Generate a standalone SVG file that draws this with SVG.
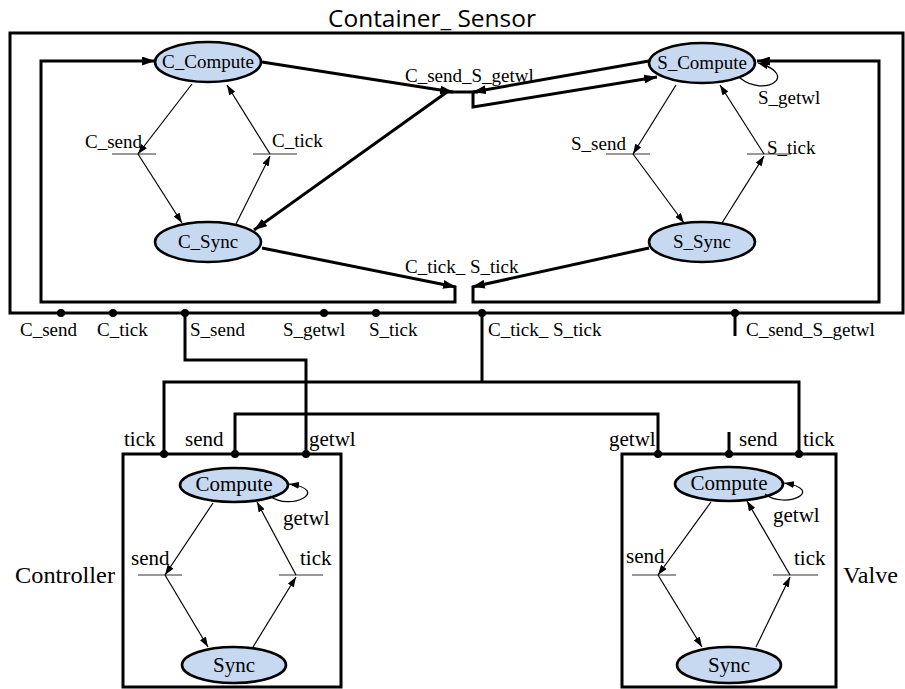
<svg xmlns="http://www.w3.org/2000/svg" width="905" height="689" viewBox="0 0 905 689">
<style>
.bg{fill:#fff}
.box{fill:none;stroke:#000;stroke-width:3}
.st{fill:#c6d9f0;stroke:#000;stroke-width:2.6}
.thk{fill:none;stroke:#000;stroke-width:3;stroke-linejoin:miter}
.thn{fill:none;stroke:#000;stroke-width:1.2}
.bar{fill:none;stroke:#333;stroke-width:1.2}
.t{font-family:"Liberation Serif","Times New Roman",serif;font-size:19px;fill:#000}
.tm{font-family:"Liberation Serif","Times New Roman",serif;font-size:21px;fill:#000}
.tl{font-family:"Liberation Serif","Times New Roman",serif;font-size:24px;fill:#000}
.ttl{font-family:"Open Sans","Liberation Sans",sans-serif;font-size:24px;fill:#000}
.c{text-anchor:middle}
.dot{fill:#000}
</style>
<defs>
<marker id="a" markerUnits="userSpaceOnUse" markerWidth="10" markerHeight="7" refX="10" refY="3.5" orient="auto"><path d="M0,0 L10,3.5 L0,7 z" fill="#000"/></marker>
<marker id="b" markerUnits="userSpaceOnUse" markerWidth="13" markerHeight="9" refX="13" refY="4.5" orient="auto"><path d="M0,0 L13,4.5 L0,9 z" fill="#000"/></marker>
</defs>
<rect class="bg" x="0" y="0" width="905" height="689"/>

<g id="container">
<rect class="box" x="10" y="33" width="893" height="280"/>
<text class="ttl" x="328" y="27" textLength="208" lengthAdjust="spacingAndGlyphs">Container_ Sensor</text>
</g>

<g id="C_Compute"><ellipse class="st" cx="208" cy="62" rx="53" ry="20"/><text class="t c" x="208" y="68">C_Compute</text></g>
<g id="C_Sync"><ellipse class="st" cx="208" cy="242" rx="53" ry="20"/><text class="t c" x="208" y="248">C_Sync</text></g>
<g id="S_Compute"><ellipse class="st" cx="702" cy="63" rx="53" ry="20"/><text class="t c" x="702" y="69">S_Compute</text></g>
<g id="S_Sync"><ellipse class="st" cx="702" cy="242" rx="53" ry="20"/><text class="t c" x="702" y="248">S_Sync</text></g>

<g id="C_send_tr"><line class="bar" x1="112" y1="154" x2="156" y2="154"/><text class="t" x="85" y="148">C_send</text></g>
<g id="C_tick_tr"><line class="bar" x1="253" y1="154" x2="297" y2="154"/><text class="t" x="272" y="147">C_tick</text></g>
<g id="S_send_tr"><line class="bar" x1="606" y1="154" x2="650" y2="154"/><text class="t" x="571" y="150">S_send</text></g>
<g id="S_tick_tr"><line class="bar" x1="747" y1="154" x2="791" y2="154"/><text class="t" x="767" y="154">S_tick</text></g>

<g id="Controller">
<rect class="box" x="123" y="454" width="218" height="233"/>
<text class="tl" x="15" y="583" textLength="100" lengthAdjust="spacingAndGlyphs">Controller</text>
<ellipse class="st" cx="234" cy="485" rx="54" ry="17"/><text class="tm c" x="234" y="491">Compute</text>
<ellipse class="st" cx="234" cy="665" rx="52" ry="18"/><text class="tm c" x="234" y="672">Sync</text>
<line class="bar" x1="138" y1="575" x2="182" y2="575"/><text class="tm" x="131" y="565">send</text>
<line class="bar" x1="279" y1="575" x2="323" y2="575"/><text class="tm" x="300" y="565">tick</text>
<text class="tm" x="283" y="525">getwl</text>
</g>

<g id="Valve">
<rect class="box" x="622" y="454" width="214" height="233"/>
<text class="tl" x="843" y="583" textLength="55" lengthAdjust="spacingAndGlyphs">Valve</text>
<ellipse class="st" cx="729" cy="484" rx="54" ry="17"/><text class="tm c" x="729" y="490">Compute</text>
<ellipse class="st" cx="729" cy="665" rx="52" ry="18"/><text class="tm c" x="729" y="672">Sync</text>
<line class="bar" x1="632" y1="575" x2="676" y2="575"/><text class="tm" x="626" y="563">send</text>
<line class="bar" x1="773" y1="575" x2="818" y2="575"/><text class="tm" x="794" y="565">tick</text>
<text class="tm" x="773" y="522">getwl</text>
</g>

<g id="connectors">
<line class="thn" x1="192" y1="84" x2="138" y2="154" marker-end="url(#a)"/>
<line class="thn" x1="138" y1="154" x2="182" y2="223" marker-end="url(#a)"/>
<line class="thn" x1="236" y1="224" x2="270" y2="156" marker-end="url(#a)"/>
<line class="thn" x1="270" y1="154" x2="227" y2="85" marker-end="url(#a)"/>
<line class="thn" x1="676" y1="85" x2="633" y2="154" marker-end="url(#a)"/>
<line class="thn" x1="633" y1="154" x2="684" y2="223" marker-end="url(#a)"/>
<line class="thn" x1="722" y1="223" x2="764" y2="156" marker-end="url(#a)"/>
<line class="thn" x1="764" y1="154" x2="720" y2="85" marker-end="url(#a)"/>
<path class="thn" d="M740,78 C765,98 800,75 758,63" marker-end="url(#a)"/>
<text class="t" x="758" y="104">S_getwl</text>
<line class="thk" x1="262" y1="62" x2="453" y2="92" marker-end="url(#b)"/>
<line class="thk" x1="649" y1="61" x2="473" y2="92" marker-end="url(#b)"/>
<line class="thk" x1="445" y1="92" x2="478" y2="92"/>
<line class="thk" x1="447" y1="92" x2="254" y2="230" marker-end="url(#b)"/>
<path class="thk" d="M473,92 V107 L657,77" marker-end="url(#b)"/>
<text class="t" x="405" y="82">C_send_S_getwl</text>
<line class="thk" x1="262" y1="248" x2="456" y2="287" marker-end="url(#b)"/>
<line class="thk" x1="649" y1="248" x2="472" y2="287" marker-end="url(#b)"/>
<path class="thk" d="M455,286 V302 H41 V61 H155" marker-end="url(#b)"/>
<path class="thk" d="M473,286 V302 H879 V61 H757" marker-end="url(#b)"/>
<text class="t" x="405" y="273">C_tick_ S_tick</text>
<circle class="dot" cx="61" cy="313" r="4"/>
<circle class="dot" cx="113" cy="313" r="4"/>
<circle class="dot" cx="185" cy="313" r="4"/>
<circle class="dot" cx="324" cy="313" r="4"/>
<circle class="dot" cx="376" cy="313" r="4"/>
<circle class="dot" cx="482" cy="313" r="4"/>
<circle class="dot" cx="735" cy="313" r="4"/>
<text class="t" x="20" y="336">C_send</text>
<text class="t" x="97" y="336">C_tick</text>
<text class="t" x="190" y="336">S_send</text>
<text class="t" x="283" y="336">S_getwl</text>
<text class="t" x="369" y="336">S_tick</text>
<text class="t" x="488" y="336">C_tick_ S_tick</text>
<text class="t" x="746" y="336">C_send_S_getwl</text>
<path class="thk" d="M185,313 V360 H306 V454"/>
<path class="thk" d="M482,313 V382"/>
<path class="thk" d="M164,454 V382 H799 V454"/>
<path class="thk" d="M235,454 V414 H658 V454"/>
<path class="thk" d="M735,313 V336"/>
<path class="thk" d="M729,432 V454"/>
<circle class="dot" cx="164" cy="454" r="4"/>
<circle class="dot" cx="235" cy="454" r="4"/>
<circle class="dot" cx="306" cy="454" r="4"/>
<circle class="dot" cx="658" cy="454" r="4"/>
<circle class="dot" cx="729" cy="454" r="4"/>
<circle class="dot" cx="799" cy="454" r="4"/>
<text class="tm" x="124" y="446">tick</text>
<text class="tm" x="185" y="446">send</text>
<text class="tm" x="309" y="446">getwl</text>
<text class="tm" x="609" y="446">getwl</text>
<text class="tm" x="739" y="446">send</text>
<text class="tm" x="803" y="446">tick</text>
<line class="thn" x1="213" y1="503" x2="165" y2="575" marker-end="url(#a)"/>
<line class="thn" x1="165" y1="575" x2="208" y2="647" marker-end="url(#a)"/>
<line class="thn" x1="253" y1="647" x2="296" y2="577" marker-end="url(#a)"/>
<line class="thn" x1="296" y1="575" x2="257" y2="502" marker-end="url(#a)"/>
<path class="thn" d="M270,496 C290,512 332,490 289,484" marker-end="url(#a)"/>
<line class="thn" x1="711" y1="502" x2="658" y2="575" marker-end="url(#a)"/>
<line class="thn" x1="658" y1="575" x2="702" y2="647" marker-end="url(#a)"/>
<line class="thn" x1="756" y1="647" x2="790" y2="577" marker-end="url(#a)"/>
<line class="thn" x1="790" y1="575" x2="747" y2="501" marker-end="url(#a)"/>
<path class="thn" d="M765,494 C785,510 827,490 784,483" marker-end="url(#a)"/>
</g>
</svg>
